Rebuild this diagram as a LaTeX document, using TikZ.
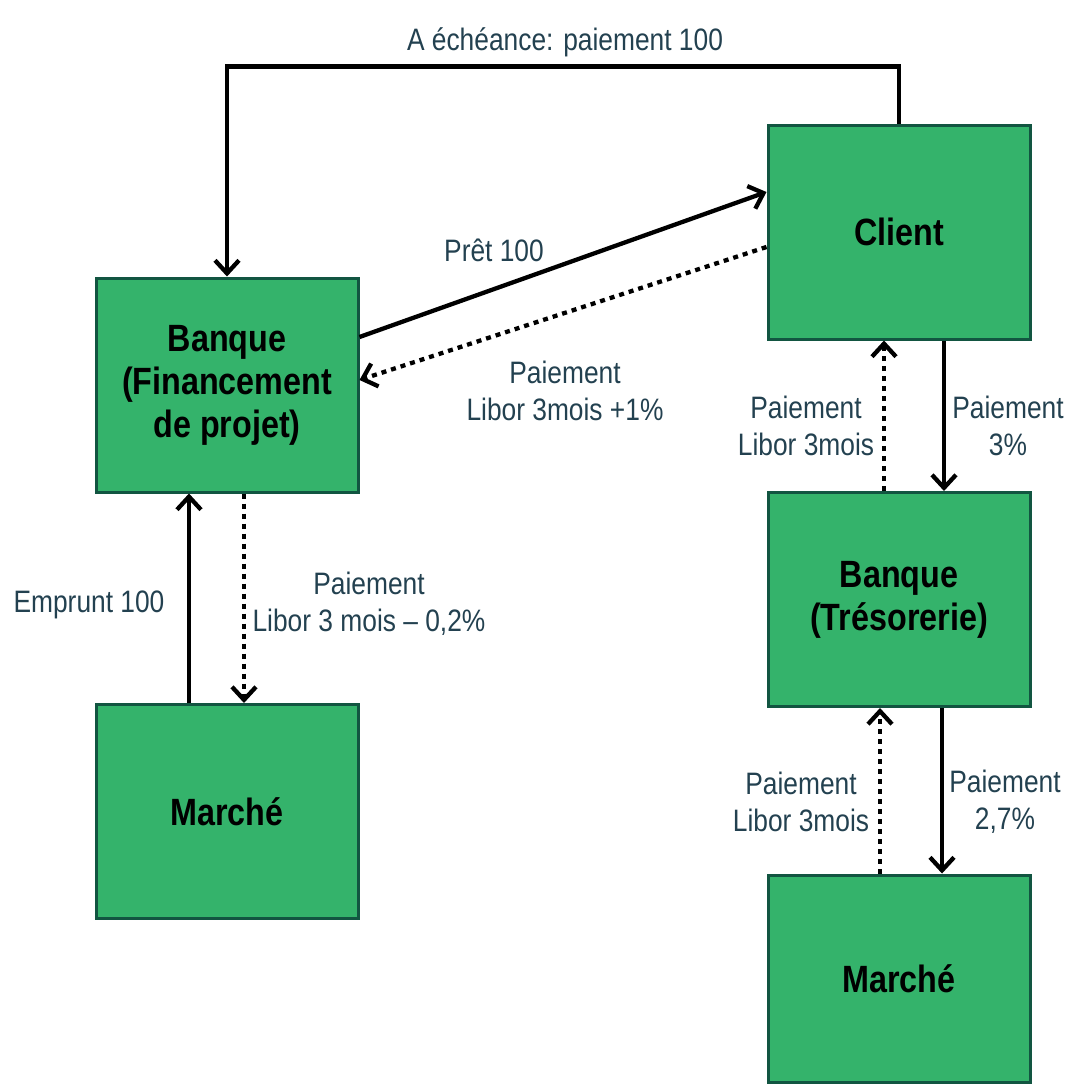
\documentclass[tikz,border=0pt]{standalone}
\usepackage{fontspec}
\setmainfont{Liberation Sans}[FakeStretch=0.85]
\usetikzlibrary{arrows.meta}
\definecolor{boxfill}{RGB}{52,179,107}
\definecolor{boxline}{RGB}{18,85,65}
\definecolor{lbl}{RGB}{35,65,80}
\begin{document}
\begin{tikzpicture}[x=1pt,y=-1pt,
  box/.style={draw=boxline, line width=3pt, fill=boxfill, minimum width=262pt, minimum height=214pt, inner sep=0pt, align=center, font=\fontsize{38}{43}\selectfont\bfseries},
  lab/.style={text=lbl, align=center, font=\fontsize{31}{37}\selectfont, inner sep=0pt},
  solidarrow/.style={draw=black, line width=4.3pt, -{Straight Barb[length=13pt,width=24pt]}},
  dotarrow/.style={solidarrow, dash pattern=on 5pt off 5pt},
]
\useasboundingbox (0,0) rectangle (1069,1084);
\node[box] (client) at (899,232) {Client};
\node[box] (bfin) at (227,385) {Banque\\(Financement\\de projet)};
\node[box] (mleft) at (227,811.5) {Marché};
\node[box] (btres) at (899,599.5) {Banque\\(Trésorerie)};
\node[box, minimum height=207pt] (mright) at (899,978.5) {Marché};

% top connector
\draw[solidarrow] (client.north) -- ++(0,-57) coordinate (tr) -| (bfin.north);
\node[lab] (ltop) at (565,42) {A échéance: paiement 100};

% pret
\draw[solidarrow] ([yshift=48pt]bfin.east) -- ([yshift=40pt]client.west);
\node[lab] (lpret) at (494,250) {Prêt 100};
\draw[dotarrow] ([yshift=-15pt]client.west) -- ([yshift=5pt]bfin.east);
\node[lab] (lpai1) at (565,391) {Paiement\\Libor 3mois +1\%};

% left column
\draw[solidarrow] ([xshift=-38pt]mleft.north) -- ([xshift=-38pt]bfin.south);
\node[lab] (lemp) at (89,605) {Emprunt 100};
\draw[dotarrow] ([xshift=17pt]bfin.south) -- ([xshift=17pt]mleft.north);
\node[lab] (lpai2) at (369,604) {Paiement\\Libor 3 mois – 0,2\%};

% client - tresorerie
\draw[dotarrow] ([xshift=-15pt]btres.north) -- ([xshift=-15pt]client.south);
\node[lab] (lpai3) at (806,426) {Paiement\\Libor 3mois};
\draw[solidarrow] ([xshift=45pt]client.south) -- ([xshift=45pt]btres.north);
\node[lab] (lpai4) at (1008,426) {Paiement\\3\%};

% tresorerie - marche
\draw[dotarrow] ([xshift=-19pt]mright.north) -- ([xshift=-19pt]btres.south);
\node[lab] (lpai5) at (801,802) {Paiement\\Libor 3mois};
\draw[solidarrow] ([xshift=43pt]btres.south) -- ([xshift=43pt]mright.north);
\node[lab] (lpai6) at (1005,802) {Paiement\\2,7\%};
\end{tikzpicture}
\end{document}
